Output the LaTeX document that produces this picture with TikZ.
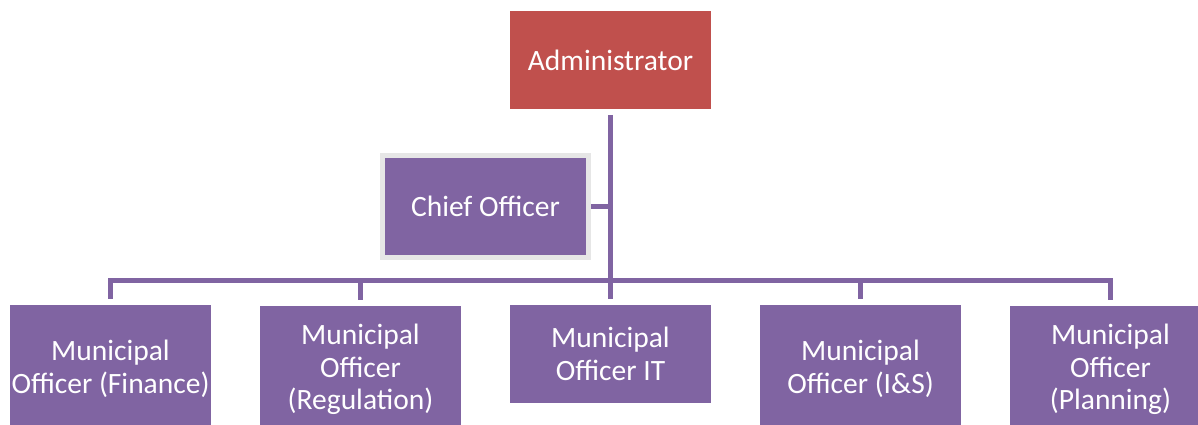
\documentclass[tikz,border=0pt]{standalone}
\usepackage{fontspec}
\setmainfont{Carlito}
\definecolor{adminred}{HTML}{C0504D}
\definecolor{mopurple}{HTML}{8064A2}
\definecolor{halo}{HTML}{E6E6E6}
\begin{document}
\begin{tikzpicture}[x=1pt,y=-1pt,
  box/.style={fill=mopurple, text=white, inner sep=0pt, outer sep=0pt, align=center,
    minimum width=201pt, font=\fontsize{29.5}{32.5}\selectfont},
  conn/.style={draw=mopurple, line width=5.5pt}]
\useasboundingbox (0,0) rectangle (1198,425);
\clip (0,0) rectangle (1198,425);
\node[box, fill=adminred, minimum height=98pt] (admin) at (610.5,60) {Administrator};
\node[box, draw=halo, line width=5pt, minimum width=206pt, minimum height=102pt, outer sep=2.5pt] (chief) at (485.5,206.5) {Chief Officer};
\node[box, minimum height=128pt] (fin) at (110.5,369) {Municipal\\Officer (Finance)};
\node[box, minimum height=128pt] (reg) at (360.5,369.5) {Municipal\\Officer\\(Regulation)};
\node[box, minimum height=98pt] (it) at (610.5,354) {Municipal\\Officer IT};
\node[box, minimum height=128pt] (is) at (860.5,369) {Municipal\\Officer (I\&S)};
\node[box, minimum height=128pt] (plan) at (1110.5,369.5) {Municipal\\Officer\\(Planning)};
\coordinate (bar) at (610,280.5);
\draw[conn, shorten <=6pt, shorten >=6pt] (admin.south) -- (it.north);
\draw[conn] (chief.east) -- (chief.east -| admin.south);
\draw[conn, line cap=rect] (fin.north |- bar) -- (plan.north |- bar);
\foreach \n in {fin,reg,is,plan}{
  \draw[conn, shorten >=6pt] (\n.north |- bar) -- (\n.north);
}
\end{tikzpicture}
\end{document}
